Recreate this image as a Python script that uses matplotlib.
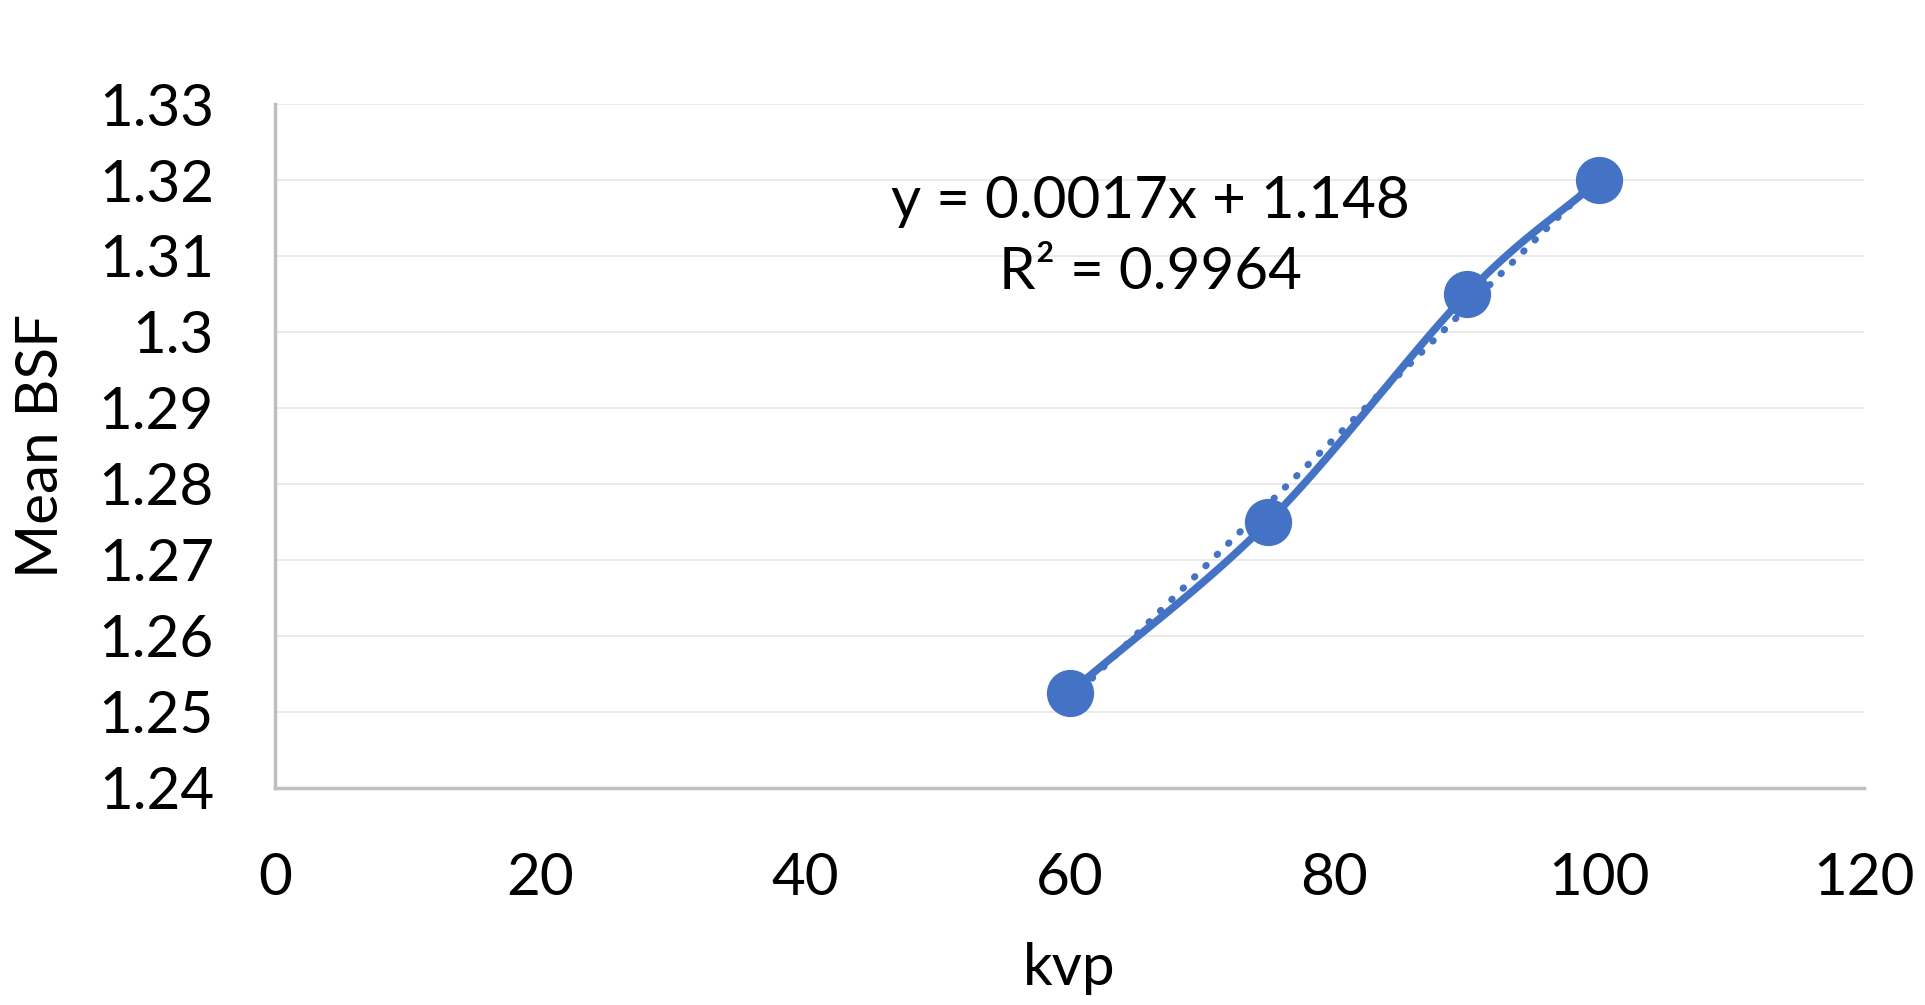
import matplotlib
matplotlib.use("Agg")
import matplotlib.pyplot as plt
import numpy as np

kvp = [60, 75, 90, 100]
bsf = [1.2525, 1.275, 1.305, 1.32]
xticks = [0, 20, 40, 60, 80, 100, 120]
yticks = [1.24, 1.25, 1.26, 1.27, 1.28, 1.29, 1.3, 1.31, 1.32, 1.33]
ytick_labels = ["1.24", "1.25", "1.26", "1.27", "1.28", "1.29", "1.3", "1.31", "1.32", "1.33"]
eq_text = "y = 0.0017x + 1.148\nR² = 0.9964"

blue = "#4472C4"
plt.rcParams['font.family'] = ['Lato', 'DejaVu Sans']

fig = plt.figure(figsize=(19.25, 10.05), dpi=100)
ax = fig.add_axes([0.1429, 0.216, 0.8254, 0.6805])

# smoothed line like Excel (catmull-rom through the points)
px = np.array(kvp, dtype=float)
py = np.array(bsf)
P = np.column_stack([px, py])
P = np.vstack([2 * P[0] - P[1], P, 2 * P[-1] - P[-2]])
sx, sy = [], []
for i in range(1, len(P) - 2):
    p0, p1, p2, p3 = P[i - 1], P[i], P[i + 1], P[i + 2]
    t = np.linspace(0, 1, 40)[:, None]
    c = 0.5 * ((2 * p1) + (-p0 + p2) * t + (2 * p0 - 5 * p1 + 4 * p2 - p3) * t ** 2
               + (-p0 + 3 * p1 - 3 * p2 + p3) * t ** 3)
    sx.extend(c[:, 0])
    sy.extend(c[:, 1])
ax.plot(sx, sy, color=blue, lw=5.5, solid_capstyle='round', zorder=3)

# linear trendline
m, b = np.polyfit(kvp, bsf, 1)
tx = np.array([kvp[0], kvp[-1]])
ax.plot(tx, m * tx + b, color=blue, lw=5, linestyle=(0, (0.1, 2.2)),
        dash_capstyle='round', zorder=2)

ax.plot(kvp, bsf, 'o', color=blue, markersize=33, zorder=4)

ax.text(66.1, 1.3125, eq_text, ha='center', va='center', fontsize=42,
        linespacing=1.4, zorder=5)

ax.set_xlim(0, 120)
ax.set_ylim(1.24, 1.33)
ax.set_xticks(xticks)
ax.set_yticks(yticks)
ax.set_yticklabels(ytick_labels)
ax.tick_params(length=0, labelsize=42)
ax.tick_params(axis='y', pad=44)
ax.tick_params(axis='x', pad=46)
ax.grid(axis='y', color='#e6e6e6', lw=1.2)
ax.set_axisbelow(True)
for s in ['top', 'right']:
    ax.spines[s].set_visible(False)
for s in ['left', 'bottom']:
    ax.spines[s].set_color('#bfbfbf')
    ax.spines[s].set_linewidth(2.5)

ax.set_xlabel("kvp", fontsize=42)
ax.set_ylabel("Mean BSF", fontsize=42)
ax.xaxis.set_label_coords(0.5, -0.226)
ax.yaxis.set_label_coords(-0.1306, 0.5)

fig.savefig("out.png", dpi=100)
